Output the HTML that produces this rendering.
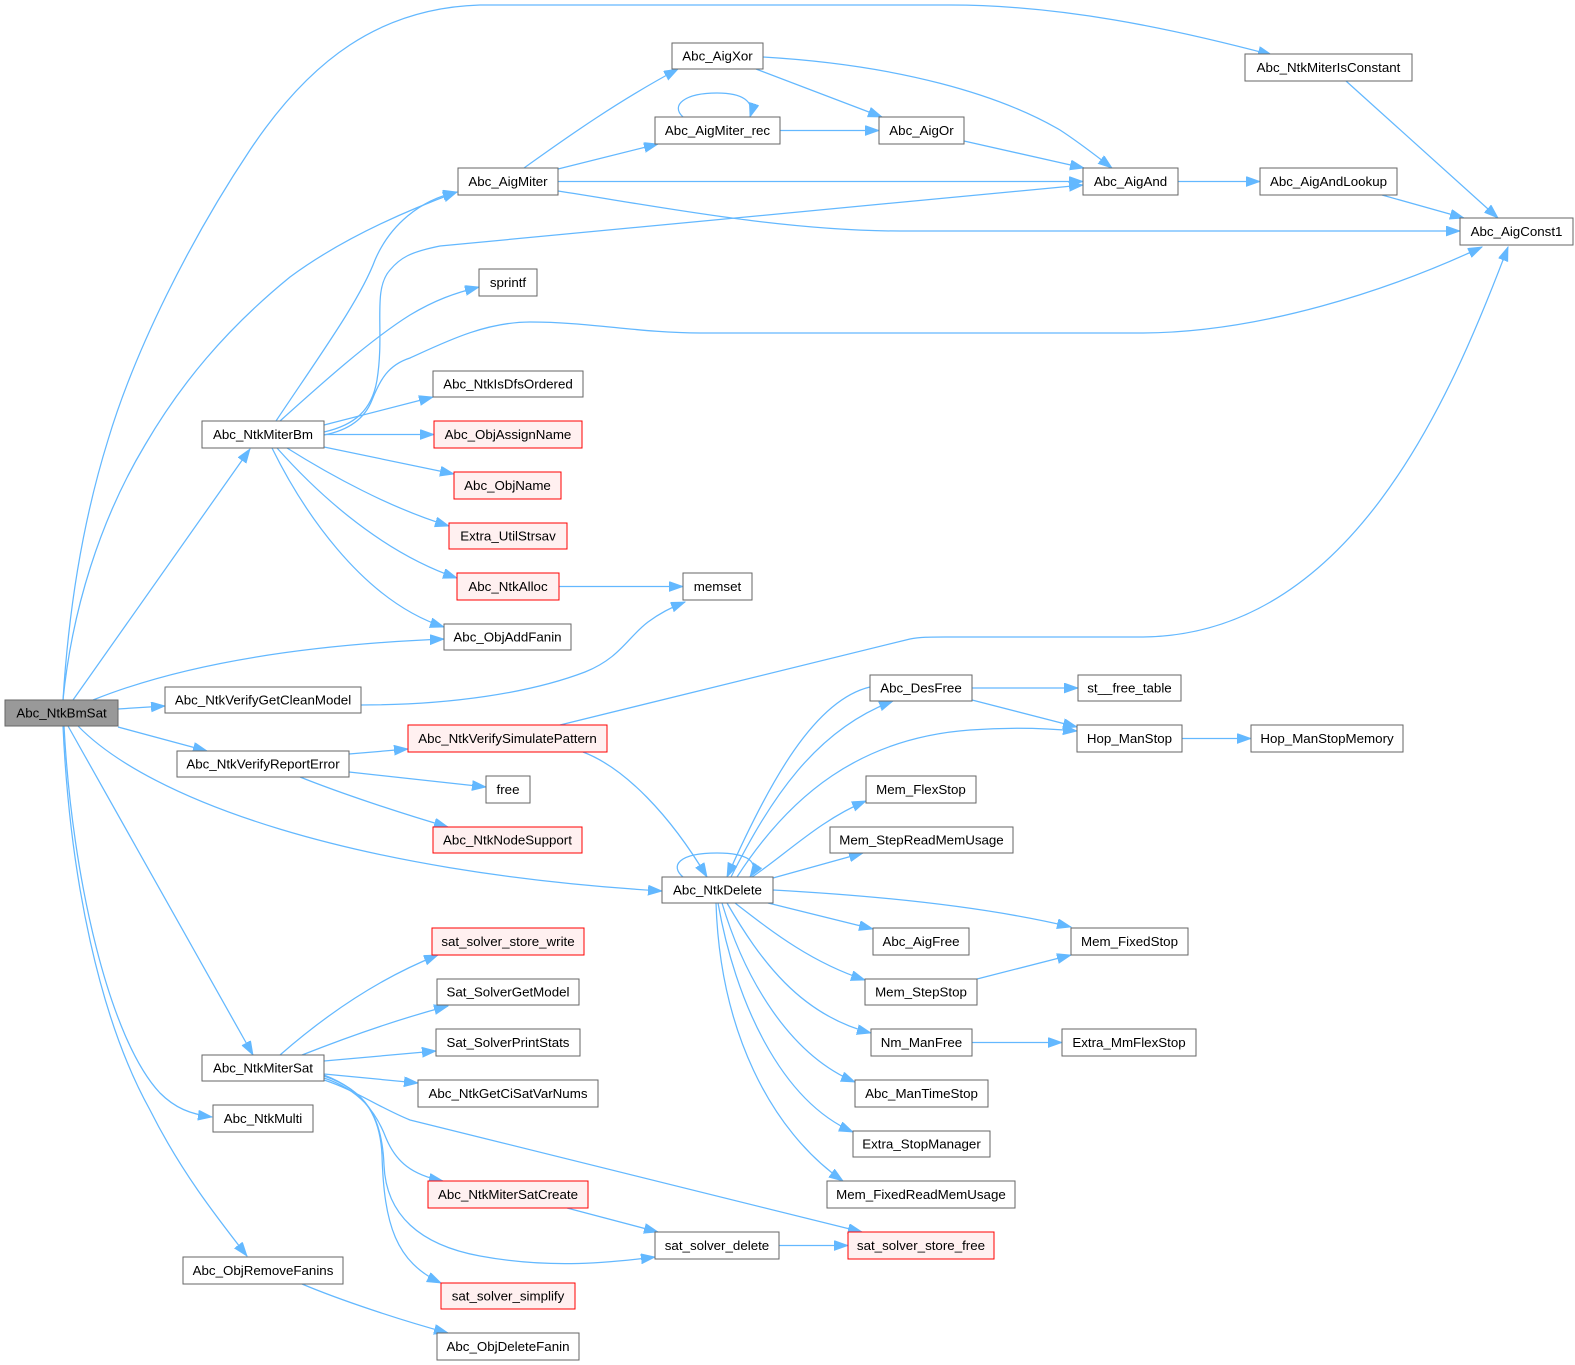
<!DOCTYPE html>
<html><head><meta charset="utf-8"><style>
html,body{margin:0;padding:0;background:#fff;}
svg{display:block;}
text{font-family:"Liberation Sans",Arial,sans-serif;font-size:13.33px;fill:#000;text-anchor:middle;}
.n{fill:#fff;stroke:#666;stroke-width:1;}
.r{fill:#fff0f0;stroke:#ff0000;stroke-width:1;}
.m{fill:#999;stroke:#666;stroke-width:1;}
.e{fill:none;stroke:#63b8ff;stroke-width:1.25;marker-end:url(#a);}
</style></head><body>
<svg width="1575" height="1365" viewBox="0 0 1575 1365" xmlns="http://www.w3.org/2000/svg">
<defs><marker id="a" markerUnits="userSpaceOnUse" markerWidth="16" markerHeight="12" refX="14" refY="5" orient="auto"><path d="M0,0 L14,5 L0,10 z" fill="#63b8ff" stroke="#63b8ff" stroke-width="0.8"/></marker></defs>
<g>
<path class="e" d="M63,700 C68,620 80,530 108,440 C135,350 190,240 250,150 C310,60 380,8 480,5 L950,5 C1060,5 1170,28 1272,55"/>
<path class="e" d="M63,700 C72,610 100,520 145,445 C180,385 225,330 290,277 C340,240 400,213 457,192"/>
<path class="e" d="M73,700 L250,449"/>
<path class="e" d="M93,700 C180,665 300,645 444,639"/>
<path class="e" d="M118,709 L165,706"/>
<path class="e" d="M118,727 L207,751"/>
<path class="e" d="M78,726 C150,800 350,872 662,891"/>
<path class="e" d="M68,726 L253,1055"/>
<path class="e" d="M64,726 C72,880 110,1040 160,1093 C175,1108 190,1114 212,1117"/>
<path class="e" d="M63,726 C70,880 100,1020 150,1110 C180,1170 215,1215 247,1256"/>
<path class="e" d="M276,421 C320,355 360,300 375,260 C390,225 420,200 457,192"/>
<path class="e" d="M280,421 C320,385 370,340 410,315 C435,300 455,293 479,287"/>
<path class="e" d="M324,432 C355,425 372,410 377,380 C385,330 372,290 390,270 C400,258 410,252 440,246 L1083,185"/>
<path class="e" d="M324,435 C350,430 365,418 372,400 C380,380 388,365 410,358 C445,342 485,322 530,322 C590,322 640,333 700,333 L1140,333 C1260,333 1390,290 1482,247"/>
<path class="e" d="M324,425 L433,397"/>
<path class="e" d="M324,434.5 L434,434.5"/>
<path class="e" d="M324,447 L454,474"/>
<path class="e" d="M287,448 C330,475 390,508 449,526"/>
<path class="e" d="M277,448 C310,485 375,550 457,578"/>
<path class="e" d="M272,448 C300,505 360,600 444,627"/>
<path class="e" d="M361,705 C450,705 530,693 585,672 C620,658 628,637 648,622 C660,613 672,607 685,602"/>
<path class="e" d="M349,754 L408,749"/>
<path class="e" d="M349,772 L486,787"/>
<path class="e" d="M300,777 C340,793 400,813 448,827"/>
<path class="e" d="M560,725 L910,639 C920,637 930,637 945,637 L1140,637 C1350,637 1450,400 1508,247"/>
<path class="e" d="M583,752 C625,768 670,815 707,877"/>
<path class="e" d="M559,586.5 L683,586.5"/>
<path class="e" d="M683,877 C670,866 678,853 717,853 C748,853 760,862 750,877"/>
<path class="e" d="M870,687 C815,700 770,780 727,877"/>
<path class="e" d="M731,877 C770,800 815,730 893,701"/>
<path class="e" d="M737,877 C790,795 860,738 970,730 C1010,727 1045,728 1077,731"/>
<path class="e" d="M752,877 C785,855 820,820 866,801"/>
<path class="e" d="M773,878 L863,853"/>
<path class="e" d="M773,890 C900,897 1000,910 1071,927"/>
<path class="e" d="M768,903 L873,929"/>
<path class="e" d="M735,903 C770,930 810,962 865,980"/>
<path class="e" d="M727,903 C760,960 800,1015 871,1033"/>
<path class="e" d="M722,903 C745,980 790,1055 855,1082"/>
<path class="e" d="M718,903 C735,1000 780,1100 853,1132"/>
<path class="e" d="M716,903 C720,1030 770,1130 843,1181"/>
<path class="e" d="M972,688 L1078,688"/>
<path class="e" d="M972,700 L1077,727"/>
<path class="e" d="M1182,738.5 L1251,738.5"/>
<path class="e" d="M977,979 L1071,955"/>
<path class="e" d="M972,1042.5 L1062,1042.5"/>
<path class="e" d="M280,1055 C320,1020 375,980 438,955"/>
<path class="e" d="M302,1055 C340,1040 395,1020 448,1006"/>
<path class="e" d="M324,1061 L436,1051"/>
<path class="e" d="M324,1074 L418,1083"/>
<path class="e" d="M324,1080 C355,1090 380,1108 410,1120 L862,1232"/>
<path class="e" d="M324,1078 C360,1090 376,1112 386,1138 C396,1162 412,1175 443,1181"/>
<path class="e" d="M324,1076 C365,1090 382,1115 384,1165 C386,1215 420,1245 480,1256 C545,1268 600,1264 655,1257"/>
<path class="e" d="M324,1075 C362,1090 380,1112 382,1155 C384,1225 396,1262 441,1283"/>
<path class="e" d="M302,1284 C340,1300 400,1320 448,1333"/>
<path class="e" d="M567,1208 L658,1232"/>
<path class="e" d="M779,1245.5 L848,1245.5"/>
<path class="e" d="M524,168 C570,135 620,100 678,69"/>
<path class="e" d="M558,169 L658,144"/>
<path class="e" d="M558,181.5 L1083,181.5"/>
<path class="e" d="M558,191 C650,205 780,231 900,231 L1460,231"/>
<path class="e" d="M756,69 L882,117"/>
<path class="e" d="M763,57 C900,65 1000,95 1060,130 C1080,143 1095,155 1112,168"/>
<path class="e" d="M683,117 C670,105 685,93 717,93 C742,93 755,101 750,117"/>
<path class="e" d="M780,130.5 L879,130.5"/>
<path class="e" d="M964,141 L1084,168"/>
<path class="e" d="M1178,181.5 L1260,181.5"/>
<path class="e" d="M1382,195 L1464,218"/>
<path class="e" d="M1346,81 L1498,218"/>
</g>
<g>
<rect class="m" x="5" y="700" width="113" height="26"/><text x="61.5" y="717.5">Abc_NtkBmSat</text>
<rect class="n" x="1245" y="54" width="167" height="27"/><text x="1328.5" y="72">Abc_NtkMiterIsConstant</text>
<rect class="n" x="672" y="43" width="91" height="26"/><text x="717.5" y="60.5">Abc_AigXor</text>
<rect class="n" x="655" y="117" width="125" height="27"/><text x="717.5" y="135">Abc_AigMiter_rec</text>
<rect class="n" x="879" y="117" width="85" height="27"/><text x="921.5" y="135">Abc_AigOr</text>
<rect class="n" x="458" y="168" width="100" height="27"/><text x="508" y="186">Abc_AigMiter</text>
<rect class="n" x="1083" y="168" width="95" height="27"/><text x="1130.5" y="186">Abc_AigAnd</text>
<rect class="n" x="1260" y="168" width="137" height="27"/><text x="1328.5" y="186">Abc_AigAndLookup</text>
<rect class="n" x="1460" y="218" width="113" height="27"/><text x="1516.5" y="236">Abc_AigConst1</text>
<rect class="n" x="479" y="269" width="58" height="27"/><text x="508" y="287">sprintf</text>
<rect class="n" x="433" y="371" width="150" height="26"/><text x="508" y="388.5">Abc_NtkIsDfsOrdered</text>
<rect class="n" x="202" y="421" width="122" height="27"/><text x="263" y="439">Abc_NtkMiterBm</text>
<rect class="r" x="434" y="421" width="148" height="27"/><text x="508" y="439">Abc_ObjAssignName</text>
<rect class="r" x="454" y="472" width="107" height="27"/><text x="507.5" y="490">Abc_ObjName</text>
<rect class="r" x="449" y="523" width="118" height="26"/><text x="508" y="540.5">Extra_UtilStrsav</text>
<rect class="r" x="457" y="573" width="102" height="27"/><text x="508" y="591">Abc_NtkAlloc</text>
<rect class="n" x="683" y="573" width="69" height="27"/><text x="717.5" y="591">memset</text>
<rect class="n" x="444" y="624" width="127" height="26"/><text x="507.5" y="641.5">Abc_ObjAddFanin</text>
<rect class="n" x="870" y="675" width="102" height="26"/><text x="921" y="692.5">Abc_DesFree</text>
<rect class="n" x="1078" y="675" width="103" height="26"/><text x="1129.5" y="692.5">st__free_table</text>
<rect class="n" x="165" y="687" width="196" height="26"/><text x="263" y="704.5">Abc_NtkVerifyGetCleanModel</text>
<rect class="r" x="408" y="725" width="199" height="27"/><text x="507.5" y="743">Abc_NtkVerifySimulatePattern</text>
<rect class="n" x="1077" y="725" width="105" height="27"/><text x="1129.5" y="743">Hop_ManStop</text>
<rect class="n" x="1251" y="725" width="152" height="27"/><text x="1327" y="743">Hop_ManStopMemory</text>
<rect class="n" x="177" y="751" width="172" height="26"/><text x="263" y="768.5">Abc_NtkVerifyReportError</text>
<rect class="n" x="486" y="776" width="44" height="27"/><text x="508" y="794">free</text>
<rect class="n" x="866" y="776" width="110" height="27"/><text x="921" y="794">Mem_FlexStop</text>
<rect class="r" x="433" y="827" width="149" height="26"/><text x="507.5" y="844.5">Abc_NtkNodeSupport</text>
<rect class="n" x="830" y="827" width="183" height="26"/><text x="921.5" y="844.5">Mem_StepReadMemUsage</text>
<rect class="n" x="662" y="877" width="111" height="26"/><text x="717.5" y="894.5">Abc_NtkDelete</text>
<rect class="r" x="432" y="928" width="152" height="27"/><text x="508" y="946">sat_solver_store_write</text>
<rect class="n" x="873" y="928" width="96" height="27"/><text x="921" y="946">Abc_AigFree</text>
<rect class="n" x="1071" y="928" width="117" height="27"/><text x="1129.5" y="946">Mem_FixedStop</text>
<rect class="n" x="437" y="979" width="142" height="26"/><text x="508" y="996.5">Sat_SolverGetModel</text>
<rect class="n" x="865" y="979" width="112" height="26"/><text x="921" y="996.5">Mem_StepStop</text>
<rect class="n" x="436" y="1029" width="144" height="27"/><text x="508" y="1047">Sat_SolverPrintStats</text>
<rect class="n" x="871" y="1029" width="101" height="27"/><text x="921.5" y="1047">Nm_ManFree</text>
<rect class="n" x="1062" y="1029" width="134" height="27"/><text x="1129" y="1047">Extra_MmFlexStop</text>
<rect class="n" x="202" y="1055" width="122" height="26"/><text x="263" y="1072.5">Abc_NtkMiterSat</text>
<rect class="n" x="418" y="1080" width="180" height="27"/><text x="508" y="1098">Abc_NtkGetCiSatVarNums</text>
<rect class="n" x="855" y="1080" width="133" height="27"/><text x="921.5" y="1098">Abc_ManTimeStop</text>
<rect class="n" x="213" y="1105" width="100" height="27"/><text x="263" y="1123">Abc_NtkMulti</text>
<rect class="n" x="853" y="1131" width="137" height="26"/><text x="921.5" y="1148.5">Extra_StopManager</text>
<rect class="r" x="428" y="1181" width="160" height="27"/><text x="508" y="1199">Abc_NtkMiterSatCreate</text>
<rect class="n" x="827" y="1181" width="188" height="27"/><text x="921" y="1199">Mem_FixedReadMemUsage</text>
<rect class="n" x="655" y="1232" width="124" height="27"/><text x="717" y="1250">sat_solver_delete</text>
<rect class="r" x="848" y="1232" width="146" height="27"/><text x="921" y="1250">sat_solver_store_free</text>
<rect class="n" x="183" y="1257" width="160" height="27"/><text x="263" y="1275">Abc_ObjRemoveFanins</text>
<rect class="r" x="441" y="1283" width="134" height="26"/><text x="508" y="1300.5">sat_solver_simplify</text>
<rect class="n" x="437" y="1333" width="142" height="27"/><text x="508" y="1351">Abc_ObjDeleteFanin</text>
</g>
</svg>
</body></html>
